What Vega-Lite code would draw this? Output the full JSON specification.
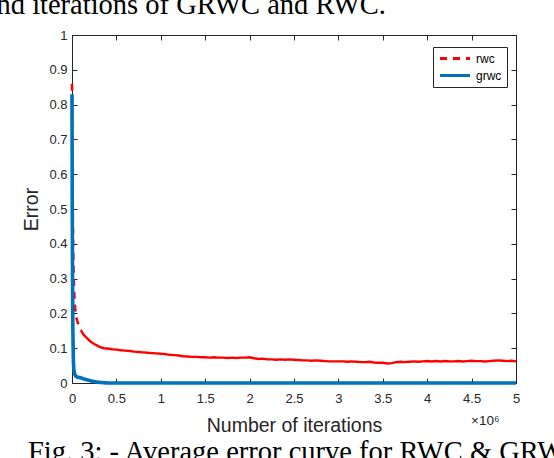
{
  "$schema": "https://vega.github.io/schema/vega-lite/v6.json",
  "width": 444,
  "height": 348,
  "autosize": {"type": "none"},
  "padding": {"left": 72, "top": 35, "right": 38, "bottom": 75},
  "background": "white",
  "title": {
    "text": "Fig. 3: - Average error curve for RWC & GRW",
    "orient": "bottom",
    "anchor": "start",
    "frame": "group",
    "font": "Liberation Serif",
    "fontSize": 28.5,
    "fontWeight": "normal",
    "color": "black",
    "baseline": "alphabetic",
    "dx": -44,
    "offset": 26
  },
  "config": {
    "view": {"stroke": null},
    "axis": {
      "grid": false,
      "domainColor": "#262626",
      "domainWidth": 1,
      "tickColor": "#262626",
      "tickWidth": 1,
      "tickSize": -5,
      "labelColor": "#262626",
      "labelFont": "Liberation Sans",
      "labelFontSize": 13,
      "labelFlush": false,
      "titleColor": "#262626",
      "titleFont": "Liberation Sans",
      "titleFontSize": 19.5,
      "titleFontWeight": "normal"
    }
  },
  "datasets": {
    "rwc": [
      {"iter": 0, "error": 0.86, "method": "rwc"},
      {"iter": 0.005, "error": 0.62, "method": "rwc"},
      {"iter": 0.01, "error": 0.45, "method": "rwc"},
      {"iter": 0.015, "error": 0.35, "method": "rwc"},
      {"iter": 0.02, "error": 0.3, "method": "rwc"},
      {"iter": 0.025, "error": 0.26, "method": "rwc"},
      {"iter": 0.03, "error": 0.235, "method": "rwc"},
      {"iter": 0.035, "error": 0.215, "method": "rwc"},
      {"iter": 0.04, "error": 0.2, "method": "rwc"},
      {"iter": 0.05, "error": 0.187, "method": "rwc"},
      {"iter": 0.06, "error": 0.178, "method": "rwc"},
      {"iter": 0.07, "error": 0.17, "method": "rwc"},
      {"iter": 0.08, "error": 0.164, "method": "rwc"},
      {"iter": 0.09, "error": 0.158, "method": "rwc"},
      {"iter": 0.1, "error": 0.152, "method": "rwc"},
      {"iter": 0.12, "error": 0.143, "method": "rwc"},
      {"iter": 0.14, "error": 0.136, "method": "rwc"},
      {"iter": 0.16, "error": 0.131, "method": "rwc"},
      {"iter": 0.18, "error": 0.126, "method": "rwc"},
      {"iter": 0.2, "error": 0.121, "method": "rwc"},
      {"iter": 0.22, "error": 0.117, "method": "rwc"},
      {"iter": 0.25, "error": 0.112, "method": "rwc"},
      {"iter": 0.28, "error": 0.108, "method": "rwc"},
      {"iter": 0.3, "error": 0.105, "method": "rwc"},
      {"iter": 0.33, "error": 0.102, "method": "rwc"},
      {"iter": 0.36, "error": 0.1, "method": "rwc"},
      {"iter": 0.4, "error": 0.099, "method": "rwc"},
      {"iter": 0.45, "error": 0.097, "method": "rwc"},
      {"iter": 0.5, "error": 0.096, "method": "rwc"},
      {"iter": 0.55, "error": 0.094, "method": "rwc"},
      {"iter": 0.6, "error": 0.093, "method": "rwc"},
      {"iter": 0.65, "error": 0.092, "method": "rwc"},
      {"iter": 0.7, "error": 0.09, "method": "rwc"},
      {"iter": 0.75, "error": 0.089, "method": "rwc"},
      {"iter": 0.8, "error": 0.088, "method": "rwc"},
      {"iter": 0.85, "error": 0.087, "method": "rwc"},
      {"iter": 0.9, "error": 0.086, "method": "rwc"},
      {"iter": 0.95, "error": 0.085, "method": "rwc"},
      {"iter": 1.0, "error": 0.084, "method": "rwc"},
      {"iter": 1.05, "error": 0.083, "method": "rwc"},
      {"iter": 1.1, "error": 0.081, "method": "rwc"},
      {"iter": 1.15, "error": 0.08, "method": "rwc"},
      {"iter": 1.2, "error": 0.079, "method": "rwc"},
      {"iter": 1.25, "error": 0.077, "method": "rwc"},
      {"iter": 1.3, "error": 0.076, "method": "rwc"},
      {"iter": 1.35, "error": 0.075, "method": "rwc"},
      {"iter": 1.4, "error": 0.075, "method": "rwc"},
      {"iter": 1.45, "error": 0.074, "method": "rwc"},
      {"iter": 1.5, "error": 0.074, "method": "rwc"},
      {"iter": 1.55, "error": 0.073, "method": "rwc"},
      {"iter": 1.6, "error": 0.074, "method": "rwc"},
      {"iter": 1.65, "error": 0.073, "method": "rwc"},
      {"iter": 1.7, "error": 0.073, "method": "rwc"},
      {"iter": 1.75, "error": 0.072, "method": "rwc"},
      {"iter": 1.8, "error": 0.073, "method": "rwc"},
      {"iter": 1.85, "error": 0.072, "method": "rwc"},
      {"iter": 1.9, "error": 0.073, "method": "rwc"},
      {"iter": 1.95, "error": 0.073, "method": "rwc"},
      {"iter": 2.0, "error": 0.074, "method": "rwc"},
      {"iter": 2.05, "error": 0.071, "method": "rwc"},
      {"iter": 2.1, "error": 0.069, "method": "rwc"},
      {"iter": 2.15, "error": 0.07, "method": "rwc"},
      {"iter": 2.2, "error": 0.068, "method": "rwc"},
      {"iter": 2.25, "error": 0.068, "method": "rwc"},
      {"iter": 2.3, "error": 0.067, "method": "rwc"},
      {"iter": 2.35, "error": 0.068, "method": "rwc"},
      {"iter": 2.4, "error": 0.067, "method": "rwc"},
      {"iter": 2.45, "error": 0.068, "method": "rwc"},
      {"iter": 2.5, "error": 0.067, "method": "rwc"},
      {"iter": 2.55, "error": 0.066, "method": "rwc"},
      {"iter": 2.6, "error": 0.065, "method": "rwc"},
      {"iter": 2.65, "error": 0.065, "method": "rwc"},
      {"iter": 2.7, "error": 0.064, "method": "rwc"},
      {"iter": 2.75, "error": 0.065, "method": "rwc"},
      {"iter": 2.8, "error": 0.064, "method": "rwc"},
      {"iter": 2.85, "error": 0.063, "method": "rwc"},
      {"iter": 2.9, "error": 0.062, "method": "rwc"},
      {"iter": 2.95, "error": 0.062, "method": "rwc"},
      {"iter": 3.0, "error": 0.062, "method": "rwc"},
      {"iter": 3.05, "error": 0.062, "method": "rwc"},
      {"iter": 3.1, "error": 0.061, "method": "rwc"},
      {"iter": 3.15, "error": 0.062, "method": "rwc"},
      {"iter": 3.2, "error": 0.061, "method": "rwc"},
      {"iter": 3.25, "error": 0.06, "method": "rwc"},
      {"iter": 3.3, "error": 0.06, "method": "rwc"},
      {"iter": 3.35, "error": 0.061, "method": "rwc"},
      {"iter": 3.4, "error": 0.059, "method": "rwc"},
      {"iter": 3.45, "error": 0.058, "method": "rwc"},
      {"iter": 3.5, "error": 0.058, "method": "rwc"},
      {"iter": 3.55, "error": 0.056, "method": "rwc"},
      {"iter": 3.6, "error": 0.057, "method": "rwc"},
      {"iter": 3.65, "error": 0.06, "method": "rwc"},
      {"iter": 3.7, "error": 0.061, "method": "rwc"},
      {"iter": 3.75, "error": 0.06, "method": "rwc"},
      {"iter": 3.8, "error": 0.061, "method": "rwc"},
      {"iter": 3.85, "error": 0.062, "method": "rwc"},
      {"iter": 3.9, "error": 0.061, "method": "rwc"},
      {"iter": 3.95, "error": 0.062, "method": "rwc"},
      {"iter": 4.0, "error": 0.063, "method": "rwc"},
      {"iter": 4.05, "error": 0.062, "method": "rwc"},
      {"iter": 4.1, "error": 0.063, "method": "rwc"},
      {"iter": 4.15, "error": 0.062, "method": "rwc"},
      {"iter": 4.2, "error": 0.063, "method": "rwc"},
      {"iter": 4.25, "error": 0.062, "method": "rwc"},
      {"iter": 4.3, "error": 0.062, "method": "rwc"},
      {"iter": 4.35, "error": 0.063, "method": "rwc"},
      {"iter": 4.4, "error": 0.062, "method": "rwc"},
      {"iter": 4.45, "error": 0.063, "method": "rwc"},
      {"iter": 4.5, "error": 0.064, "method": "rwc"},
      {"iter": 4.55, "error": 0.063, "method": "rwc"},
      {"iter": 4.6, "error": 0.063, "method": "rwc"},
      {"iter": 4.65, "error": 0.062, "method": "rwc"},
      {"iter": 4.7, "error": 0.063, "method": "rwc"},
      {"iter": 4.75, "error": 0.064, "method": "rwc"},
      {"iter": 4.8, "error": 0.065, "method": "rwc"},
      {"iter": 4.85, "error": 0.064, "method": "rwc"},
      {"iter": 4.9, "error": 0.063, "method": "rwc"},
      {"iter": 4.95, "error": 0.064, "method": "rwc"},
      {"iter": 5.0, "error": 0.062, "method": "rwc"}
    ],
    "grwc": [
      {"iter": 0, "error": 0.83, "method": "grwc"},
      {"iter": 0.003, "error": 0.5, "method": "grwc"},
      {"iter": 0.006, "error": 0.3, "method": "grwc"},
      {"iter": 0.01, "error": 0.15, "method": "grwc"},
      {"iter": 0.015, "error": 0.07, "method": "grwc"},
      {"iter": 0.02, "error": 0.04, "method": "grwc"},
      {"iter": 0.03, "error": 0.026, "method": "grwc"},
      {"iter": 0.04, "error": 0.02, "method": "grwc"},
      {"iter": 0.06, "error": 0.017, "method": "grwc"},
      {"iter": 0.08, "error": 0.016, "method": "grwc"},
      {"iter": 0.1, "error": 0.015, "method": "grwc"},
      {"iter": 0.12, "error": 0.013, "method": "grwc"},
      {"iter": 0.15, "error": 0.01, "method": "grwc"},
      {"iter": 0.2, "error": 0.007, "method": "grwc"},
      {"iter": 0.25, "error": 0.004, "method": "grwc"},
      {"iter": 0.3, "error": 0.002, "method": "grwc"},
      {"iter": 0.35, "error": 0.001, "method": "grwc"},
      {"iter": 0.4, "error": 0.0, "method": "grwc"},
      {"iter": 1.0, "error": 0.0, "method": "grwc"},
      {"iter": 2.0, "error": 0.0, "method": "grwc"},
      {"iter": 3.0, "error": 0.0, "method": "grwc"},
      {"iter": 4.0, "error": 0.0, "method": "grwc"},
      {"iter": 5.0, "error": 0.0, "method": "grwc"}
    ]
  },
  "resolve": {"axis": {"x": "independent", "y": "independent"}},
  "layer": [
    {
      "data": {"name": "rwc"},
      "transform": [{"filter": "datum.iter >= 0.1"}],
      "mark": {"type": "line", "strokeWidth": 2.4, "color": "#FF0000"},
      "encoding": {
        "x": {
          "field": "iter",
          "type": "quantitative",
          "scale": {"domain": [0, 5], "nice": false},
          "axis": {
            "orient": "bottom",
            "values": [0, 0.5, 1, 1.5, 2, 2.5, 3, 3.5, 4, 4.5, 5],
            "format": "~g",
            "labelPadding": 14,
            "title": "Number of iterations",
            "titlePadding": 11
          }
        },
        "y": {
          "field": "error",
          "type": "quantitative",
          "scale": {"domain": [0, 1], "nice": false},
          "axis": {
            "orient": "left",
            "values": [0, 0.1, 0.2, 0.3, 0.4, 0.5, 0.6, 0.7, 0.8, 0.9, 1],
            "format": "~g",
            "labelPadding": 10,
            "title": "Error",
            "titlePadding": 7
          }
        }
      }
    },
    {
      "data": {"name": "rwc"},
      "transform": [{"filter": "datum.iter <= 0.1"}],
      "mark": {"type": "line", "strokeWidth": 2.6},
      "encoding": {
        "x": {
          "field": "iter",
          "type": "quantitative",
          "scale": {"domain": [0, 5], "nice": false},
          "axis": {
            "orient": "top",
            "values": [0, 0.5, 1, 1.5, 2, 2.5, 3, 3.5, 4, 4.5, 5],
            "labels": false,
            "title": "nd iterations of GRWC and RWC.",
            "titleFont": "Liberation Serif",
            "titleFontSize": 28.5,
            "titleColor": "black",
            "titleAlign": "left",
            "titleBaseline": "alphabetic",
            "titleAngle": 0,
            "titleX": -76,
            "titleY": -21.5
          }
        },
        "y": {
          "field": "error",
          "type": "quantitative",
          "scale": {"domain": [0, 1], "nice": false},
          "axis": {
            "orient": "right",
            "values": [0, 0.1, 0.2, 0.3, 0.4, 0.5, 0.6, 0.7, 0.8, 0.9, 1],
            "labels": false,
            "title": "×10⁶",
            "titleFontSize": 13.5,
            "titleAngle": 0,
            "titleAlign": "right",
            "titleBaseline": "alphabetic",
            "titleX": -17,
            "titleY": 389
          }
        },
        "color": {
          "field": "method",
          "type": "nominal",
          "scale": {"domain": ["rwc", "grwc"], "range": ["#FF0000", "#0072BD"]},
          "legend": {
            "orient": "none",
            "legendX": 361,
            "legendY": 12,
            "title": null,
            "strokeColor": "#262626",
            "fillColor": "white",
            "padding": 5,
            "symbolType": "stroke",
            "symbolSize": 900,
            "symbolStrokeWidth": 3.2,
            "clipHeight": 13,
            "labelFont": "Liberation Sans",
            "labelFontSize": 12,
            "labelColor": "black",
            "labelOffset": 4,
            "rowPadding": 4
          }
        },
        "strokeDash": {
          "field": "method",
          "type": "nominal",
          "scale": {"domain": ["rwc", "grwc"], "range": [[7, 6], [1, 0]]},
          "legend": {
            "orient": "none",
            "legendX": 361,
            "legendY": 12,
            "title": null,
            "strokeColor": "#262626",
            "fillColor": "white",
            "padding": 5,
            "symbolType": "stroke",
            "symbolSize": 900,
            "symbolStrokeWidth": 3.2,
            "clipHeight": 13,
            "labelFont": "Liberation Sans",
            "labelFontSize": 12,
            "labelColor": "black",
            "labelOffset": 4,
            "rowPadding": 4
          }
        }
      }
    },
    {
      "data": {"name": "grwc"},
      "mark": {"type": "line", "strokeWidth": 3.6},
      "encoding": {
        "x": {"field": "iter", "type": "quantitative", "scale": {"domain": [0, 5], "nice": false}, "axis": null},
        "y": {"field": "error", "type": "quantitative", "scale": {"domain": [0, 1], "nice": false}, "axis": null},
        "color": {"field": "method", "type": "nominal", "scale": {"domain": ["rwc", "grwc"], "range": ["#FF0000", "#0072BD"]}},
        "strokeDash": {"field": "method", "type": "nominal", "scale": {"domain": ["rwc", "grwc"], "range": [[7, 6], [1, 0]]}}
      }
    }
  ]
}
